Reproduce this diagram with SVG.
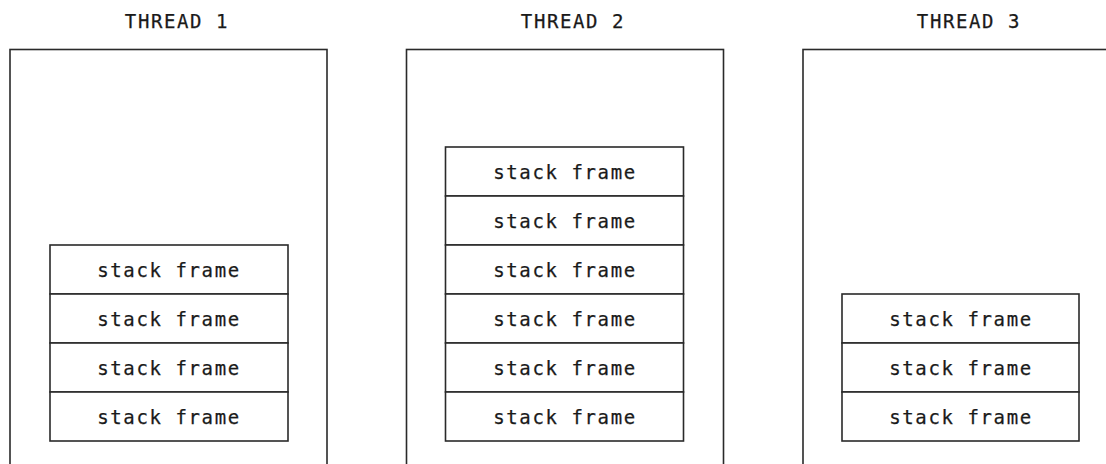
<svg xmlns="http://www.w3.org/2000/svg" width="1106" height="464" viewBox="0 0 1106 464">
<style>
.box{fill:#fff;stroke:#2a2a2a;stroke-width:1.6}
.fr{fill:#fff;stroke:#2a2a2a;stroke-width:1.6}
.t{font-family:"DejaVu Sans Mono",monospace;font-size:19px;letter-spacing:1.6px;fill:#1a1a1a;stroke:#1a1a1a;stroke-width:0.25;text-anchor:middle}
</style>
<rect width="1106" height="464" fill="#fff"/>
<g id="thread1">
<text class="t" x="177" y="27.5">THREAD 1</text>
<rect class="box" x="10" y="49.5" width="317" height="430"/>
<g id="t1f1"><rect class="fr" x="50" y="245" width="238" height="49"/><text class="t" x="169" y="276.5">stack frame</text></g>
<g id="t1f2"><rect class="fr" x="50" y="294" width="238" height="49"/><text class="t" x="169" y="325.5">stack frame</text></g>
<g id="t1f3"><rect class="fr" x="50" y="343" width="238" height="49"/><text class="t" x="169" y="374.5">stack frame</text></g>
<g id="t1f4"><rect class="fr" x="50" y="392" width="238" height="49"/><text class="t" x="169" y="423.5">stack frame</text></g>
</g>
<g id="thread2">
<text class="t" x="573" y="27.5">THREAD 2</text>
<rect class="box" x="406.5" y="49.5" width="317" height="430"/>
<g id="t2f1"><rect class="fr" x="445.5" y="147" width="238" height="49"/><text class="t" x="565" y="178.5">stack frame</text></g>
<g id="t2f2"><rect class="fr" x="445.5" y="196" width="238" height="49"/><text class="t" x="565" y="227.5">stack frame</text></g>
<g id="t2f3"><rect class="fr" x="445.5" y="245" width="238" height="49"/><text class="t" x="565" y="276.5">stack frame</text></g>
<g id="t2f4"><rect class="fr" x="445.5" y="294" width="238" height="49"/><text class="t" x="565" y="325.5">stack frame</text></g>
<g id="t2f5"><rect class="fr" x="445.5" y="343" width="238" height="49"/><text class="t" x="565" y="374.5">stack frame</text></g>
<g id="t2f6"><rect class="fr" x="445.5" y="392" width="238" height="49"/><text class="t" x="565" y="423.5">stack frame</text></g>
</g>
<g id="thread3">
<text class="t" x="969" y="27.5">THREAD 3</text>
<rect class="box" x="803" y="49.5" width="317" height="430"/>
<g id="t3f1"><rect class="fr" x="842" y="294" width="237" height="49"/><text class="t" x="961" y="325.5">stack frame</text></g>
<g id="t3f2"><rect class="fr" x="842" y="343" width="237" height="49"/><text class="t" x="961" y="374.5">stack frame</text></g>
<g id="t3f3"><rect class="fr" x="842" y="392" width="237" height="49"/><text class="t" x="961" y="423.5">stack frame</text></g>
</g>
<g id="connectors"/>
</svg>
